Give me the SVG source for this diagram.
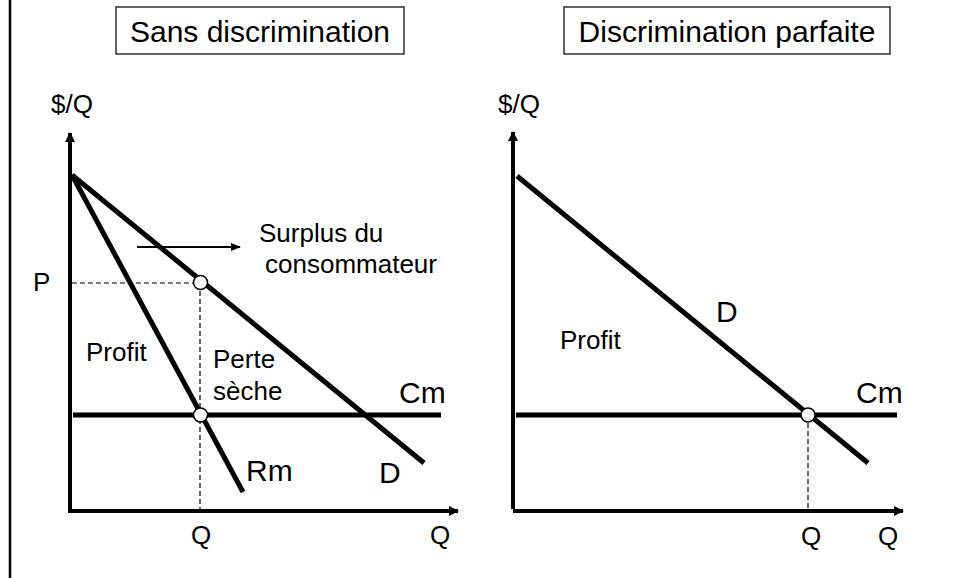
<svg xmlns="http://www.w3.org/2000/svg" width="953" height="578" viewBox="0 0 953 578">
<defs>
<marker id="ah" markerWidth="10" markerHeight="10" refX="9" refY="5" orient="auto" markerUnits="userSpaceOnUse">
<path d="M0,0 L10,5 L0,10 z" fill="#000"/>
</marker>
<marker id="ahs" markerWidth="10" markerHeight="10" refX="9" refY="4" orient="auto" markerUnits="userSpaceOnUse">
<path d="M0,0 L10,4 L0,8 z" fill="#000"/>
</marker>
</defs>
<style>
text{font-family:"Liberation Sans",Arial,sans-serif;fill:#000}
.t{font-size:30px}
.l{font-size:26px}
.c{font-size:30px}
.ax{stroke:#000;stroke-width:4;fill:none}
.cv{stroke:#000;stroke-width:5;fill:none}
.ds{stroke:#000;stroke-width:1.2;stroke-dasharray:5,3;fill:none}
.box{fill:#fff;stroke:#333;stroke-width:1.5}
.pt{fill:#fff;stroke:#000;stroke-width:1.5}
</style>
<rect width="953" height="578" fill="#fff"/>
<line x1="10" y1="0" x2="10" y2="578" stroke="#000" stroke-width="2.5"/>

<g id="title-left">
<rect class="box" x="116" y="7" width="288" height="47"/>
<text class="t" x="260" y="42" text-anchor="middle">Sans discrimination</text>
</g>
<g id="title-right">
<rect class="box" x="564" y="7" width="326" height="47"/>
<text class="t" x="727" y="42" text-anchor="middle">Discrimination parfaite</text>
</g>

<g id="connectors">
<line class="ax" x1="70" y1="513" x2="70" y2="133" marker-end="url(#ah)"/>
<line class="ax" x1="68" y1="511" x2="458" y2="511" marker-end="url(#ah)"/>
<line class="ds" x1="72" y1="283" x2="200" y2="283"/>
<line class="ds" x1="200" y1="283" x2="200" y2="511"/>
<line class="cv" x1="72" y1="175" x2="424" y2="463"/>
<line class="cv" x1="72" y1="175" x2="243" y2="492"/>
<line class="cv" x1="73" y1="415" x2="441" y2="415"/>
<line x1="137" y1="247" x2="240" y2="247" stroke="#000" stroke-width="2" marker-end="url(#ahs)"/>
<line class="ax" x1="513" y1="509" x2="513" y2="132" marker-end="url(#ah)"/>
<line class="ax" x1="513" y1="511" x2="903" y2="511" marker-end="url(#ah)"/>
<line class="ds" x1="808" y1="415" x2="808" y2="511"/>
<line class="cv" x1="517" y1="176" x2="868" y2="463"/>
<line class="cv" x1="516" y1="415" x2="897" y2="415"/>
</g>

<g id="points">
<circle class="pt" cx="200.5" cy="282.5" r="7"/>
<circle class="pt" cx="200.5" cy="415" r="7"/>
<circle class="pt" cx="808" cy="415" r="7"/>
</g>

<g id="labels-left">
<text class="l" x="51" y="113">$/Q</text>
<text class="l" x="33" y="291">P</text>
<text class="l" x="259" y="242">Surplus du</text>
<text class="l" x="265" y="273">consommateur</text>
<text class="l" x="86" y="361">Profit</text>
<text class="l" x="213" y="368">Perte</text>
<text class="l" x="213" y="400">sèche</text>
<text class="c" x="399" y="403">Cm</text>
<text class="c" x="246" y="481">Rm</text>
<text class="c" x="379" y="483">D</text>
<text class="l" x="191" y="544">Q</text>
<text class="l" x="430" y="544">Q</text>
</g>

<g id="labels-right">
<text class="l" x="498" y="113">$/Q</text>
<text class="c" x="716" y="322">D</text>
<text class="l" x="560" y="349">Profit</text>
<text class="c" x="856" y="403">Cm</text>
<text class="l" x="801" y="545">Q</text>
<text class="l" x="878" y="545">Q</text>
</g>
</svg>
